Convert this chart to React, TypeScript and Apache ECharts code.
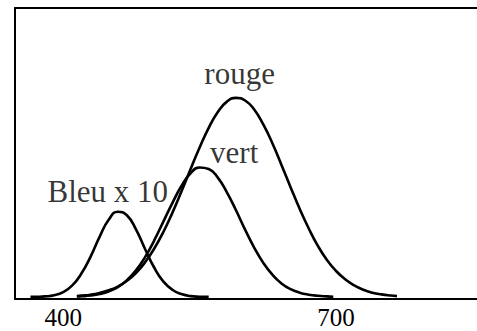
import React, { useEffect, useRef } from "react";
import * as echarts from "echarts";

const blueWl = [364, 370, 380, 390, 400, 410, 420, 430, 440, 450, 460, 470, 480, 490, 500, 510, 520, 530, 540, 550, 560];
const blueVal = [0.02, 0.06, 0.2, 0.6, 1.7, 4.0, 8.1, 13.9, 20.8, 26.7, 29.5, 28.3, 23.4, 16.6, 10.2, 5.4, 2.5, 1.0, 0.3, 0.1, 0.03];

const greenWl = [415, 420, 430, 440, 450, 460, 470, 480, 490, 500, 510, 520, 530, 540, 550, 560, 570, 580, 590, 600, 610, 620, 630, 640, 650, 660, 670, 680, 690, 697];
const greenVal = [0.15, 0.23, 0.5, 1.0, 1.9, 3.4, 5.8, 9.2, 13.8, 19.5, 26.0, 32.5, 38.4, 42.8, 44.8, 44.3, 41.3, 36.2, 30.0, 23.3, 17.1, 11.8, 7.7, 4.7, 2.7, 1.5, 0.8, 0.4, 0.2, 0.1];

const redWl = [415, 420, 430, 440, 450, 460, 470, 480, 490, 500, 510, 520, 530, 540, 550, 560, 570, 580, 590, 600, 610, 620, 630, 640, 650, 660, 670, 680, 690, 700, 710, 720, 730, 740, 750, 760, 767];
const redVal = [0.35, 0.46, 0.8, 1.4, 2.3, 3.6, 5.6, 8.3, 12.0, 16.7, 22.4, 29.1, 36.5, 44.2, 51.7, 58.5, 64.0, 67.6, 68.9, 68.0, 64.9, 59.7, 53.2, 45.7, 38.0, 30.5, 23.7, 17.7, 12.8, 9.0, 6.1, 4.0, 2.5, 1.5, 0.9, 0.5, 0.3];

const tickLabels = [400, 700];

const labelNames = ["rouge", "vert", "Bleu x 10"];
const labelWl = [594, 588, 449];
const labelVal = [77.3, 50.1, 36.5];

const FONT = "'Liberation Serif', 'Times New Roman', serif";

function pairs(xs: number[], ys: number[]) {
  return xs.map((x, i) => [x, ys[i]]);
}

export default function App() {
  const ref = useRef<HTMLDivElement>(null);
  useEffect(() => {
    if (!ref.current) return;
    const chart = echarts.init(ref.current, null, { renderer: "svg" });
    const lineSeries = (name: string, xs: number[], ys: number[]) => ({
      name,
      type: "line",
      data: pairs(xs, ys),
      smooth: 0.5,
      showSymbol: false,
      symbol: "none",
      lineStyle: { color: "#000", width: 2.6 },
      z: 3,
    });
    chart.setOption({
      animation: false,
      backgroundColor: "#fff",
      grid: { left: 15, top: 8, right: 0, bottom: 32, containLabel: false },
      xAxis: [
        {
          type: "value",
          min: 347,
          max: 855,
          position: "bottom",
          axisLine: { show: true, onZero: false, lineStyle: { color: "#000", width: 2 } },
          axisTick: { show: false },
          splitLine: { show: false },
          axisLabel: {
            show: true,
            customValues: tickLabels,
            color: "#000",
            fontFamily: FONT,
            fontSize: 25,
            margin: 6,
          },
        },
        {
          type: "value",
          min: 347,
          max: 855,
          position: "top",
          axisLine: { show: true, onZero: false, lineStyle: { color: "#000", width: 2 } },
          axisTick: { show: false },
          splitLine: { show: false },
          axisLabel: { show: false },
        },
      ],
      yAxis: {
        type: "value",
        min: -0.7,
        max: 100,
        axisLine: { show: true, onZero: false, lineStyle: { color: "#000", width: 2 } },
        axisTick: { show: false },
        splitLine: { show: false },
        axisLabel: { show: false },
      },
      series: [
        lineSeries("Bleu x 10", blueWl, blueVal),
        lineSeries("vert", greenWl, greenVal),
        lineSeries("rouge", redWl, redVal),
        {
          type: "scatter",
          symbolSize: 0,
          data: labelNames.map((n, i) => ({ value: [labelWl[i], labelVal[i]], name: n })),
          label: {
            show: true,
            position: "inside",
            formatter: (p: any) => p.name,
            color: "#000",
            textBorderWidth: 0,
            fontFamily: FONT,
            fontSize: 31,
            align: "center",
            verticalAlign: "middle",
          },
          z: 5,
        },
      ],
    });
    return () => chart.dispose();
  }, []);
  return (
    <div
      ref={ref}
      style={{ position: "fixed", left: 0, top: 0, width: 477, height: 331, background: "#fff" }}
    />
  );
}
